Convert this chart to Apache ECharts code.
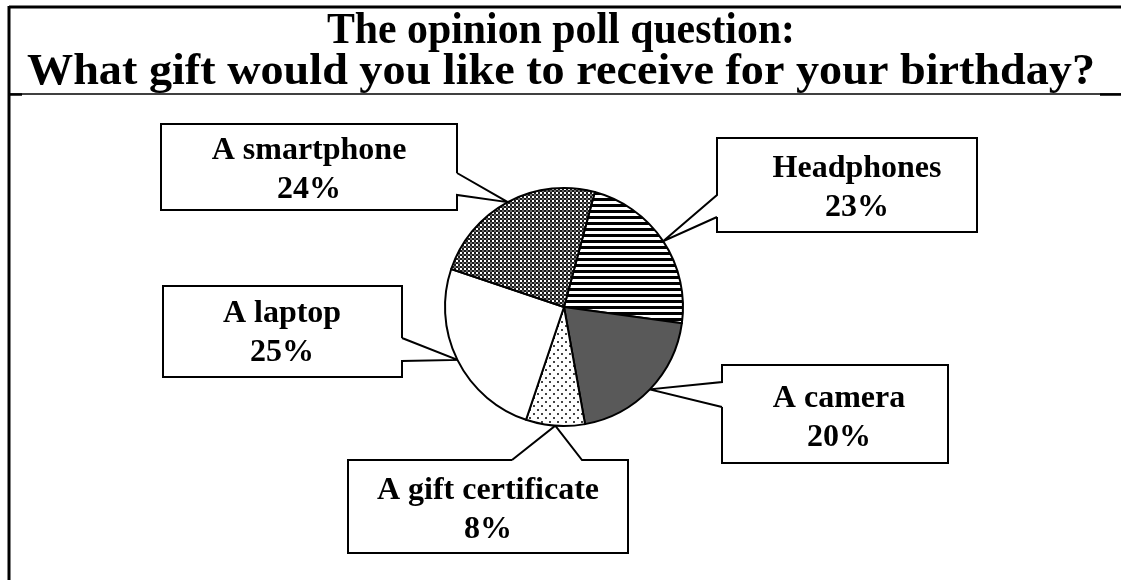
<!DOCTYPE html>
<html>
<head>
<meta charset="utf-8">
<script src="https://cdn.jsdelivr.net/npm/echarts@6/dist/echarts.min.js"></script>
<style>
html,body{margin:0;padding:0;background:#fff;}
#chart{width:1121px;height:580px;}
</style>
</head>
<body>
<div id="chart"></div>
<script>
// ---- data ----
const titleLines = ['The opinion poll question:', 'What gift would you like to receive for your birthday?'];
const categories = ['Headphones', 'A camera', 'A gift certificate', 'A laptop', 'A smartphone'];
const percents = [23, 20, 8, 25, 24];

// ---- patterns ----
function makePattern(w, h, draw) {
  const c = document.createElement('canvas');
  c.width = w; c.height = h;
  const ctx = c.getContext('2d');
  ctx.fillStyle = '#fff'; ctx.fillRect(0, 0, w, h);
  draw(ctx);
  return { image: c, repeat: 'repeat' };
}
const stripes = makePattern(6, 6, ctx => { ctx.fillStyle = '#000'; ctx.fillRect(0, 0, 6, 3); });
const checker = makePattern(4, 4, ctx => {
  ctx.fillStyle = '#1a1a1a'; ctx.fillRect(0, 0, 4, 4);
  ctx.fillStyle = '#fff'; ctx.fillRect(0, 0, 2, 2);
  ctx.fillStyle = '#6a6a6a'; ctx.fillRect(2, 2, 2, 2);
});
const sparse = makePattern(8, 8, ctx => { ctx.fillStyle = '#444'; ctx.fillRect(1, 1, 2, 2); ctx.fillRect(5, 5, 2, 2); });
const fills = [stripes, '#595959', sparse, '#ffffff', checker];

// ---- callout box layout (positions only) ----
const callouts = [
  { box: [717, 138, 977, 232], side: 'left', span: [195, 217], text: [857, 188] },
  { box: [722, 365, 948, 463], side: 'left', span: [382, 407], text: [839, 418] },
  { box: [348, 460, 628, 553], side: 'top', span: [512, 582], text: [488, 510] },
  { box: [163, 286, 402, 377], side: 'right', span: [338, 361], text: [282, 333] },
  { box: [161, 124, 457, 210], side: 'right', span: [173, 195], text: [309, 170] }
];

function calloutPath(c, tip) {
  const [l, t, r, b] = c.box;
  const [s0, s1] = c.span;
  if (c.side === 'right') {
    return [[r, s0], tip, [r, s1], [r, b], [l, b], [l, t], [r, t], [r, s0]];
  } else if (c.side === 'left') {
    return [[l, s1], tip, [l, s0], [l, t], [r, t], [r, b], [l, b], [l, s1]];
  } else {
    return [[s0, t], tip, [s1, t], [r, t], [r, b], [l, b], [l, t], [s0, t]];
  }
}

const chart = echarts.init(document.getElementById('chart'), null, { renderer: 'canvas' });

const titleFont = 'bold 44px "Liberation Serif", "Times New Roman", serif';

const option = {
  animation: false,
  backgroundColor: '#fff',
  graphic: [
    { type: 'text', x: 561, y: 32, scaleX: 0.95, style: { text: titleLines[0], font: titleFont, fill: '#000', align: 'center', verticalAlign: 'middle' } },
    { type: 'text', x: 561, y: 73, scaleX: 1.05, style: { text: titleLines[1], font: titleFont, fill: '#000', align: 'center', verticalAlign: 'middle' } },
    { type: 'line', shape: { x1: 9, y1: 7, x2: 1121, y2: 7 }, style: { stroke: '#000', lineWidth: 3 } },
    { type: 'line', shape: { x1: 9, y1: 6, x2: 9, y2: 580 }, style: { stroke: '#000', lineWidth: 3 } },
    { type: 'line', shape: { x1: 9, y1: 94, x2: 1121, y2: 94 }, style: { stroke: '#000', lineWidth: 1.5 } },
    { type: 'line', shape: { x1: 9, y1: 94.5, x2: 22, y2: 94.5 }, style: { stroke: '#000', lineWidth: 2.5 } },
    { type: 'line', shape: { x1: 1100, y1: 94.5, x2: 1121, y2: 94.5 }, style: { stroke: '#000', lineWidth: 2.5 } }
  ],
  series: [{
    type: 'pie',
    center: [564, 307],
    radius: 119,
    startAngle: 75,
    clockwise: true,
    avoidLabelOverlap: false,
    data: categories.map((n, i) => ({ name: n, value: percents[i], itemStyle: { color: fills[i] } })),
    itemStyle: { borderColor: '#000', borderWidth: 2 },
    emphasis: { disabled: true },
    label: {
      show: true,
      position: 'outside',
      formatter: p => p.name + '\n' + p.value + '%',
      fontFamily: 'Liberation Serif',
      fontWeight: 'bold',
      fontSize: 32,
      lineHeight: 39,
      color: '#000',
      align: 'center'
    },
    labelLine: {
      show: true,
      length: 20,
      length2: 20,
      smooth: false,
      lineStyle: { color: '#000', width: 2 }
    },
    labelLayout: function (params) {
      const c = callouts[params.dataIndex];
      const tip = params.labelLinePoints ? params.labelLinePoints[0] : [564, 307];
      return {
        x: c.text[0],
        y: c.text[1],
        align: 'center',
        verticalAlign: 'middle',
        labelLinePoints: calloutPath(c, tip)
      };
    }
  }]
};
chart.setOption(option);
</script>
</body>
</html>
